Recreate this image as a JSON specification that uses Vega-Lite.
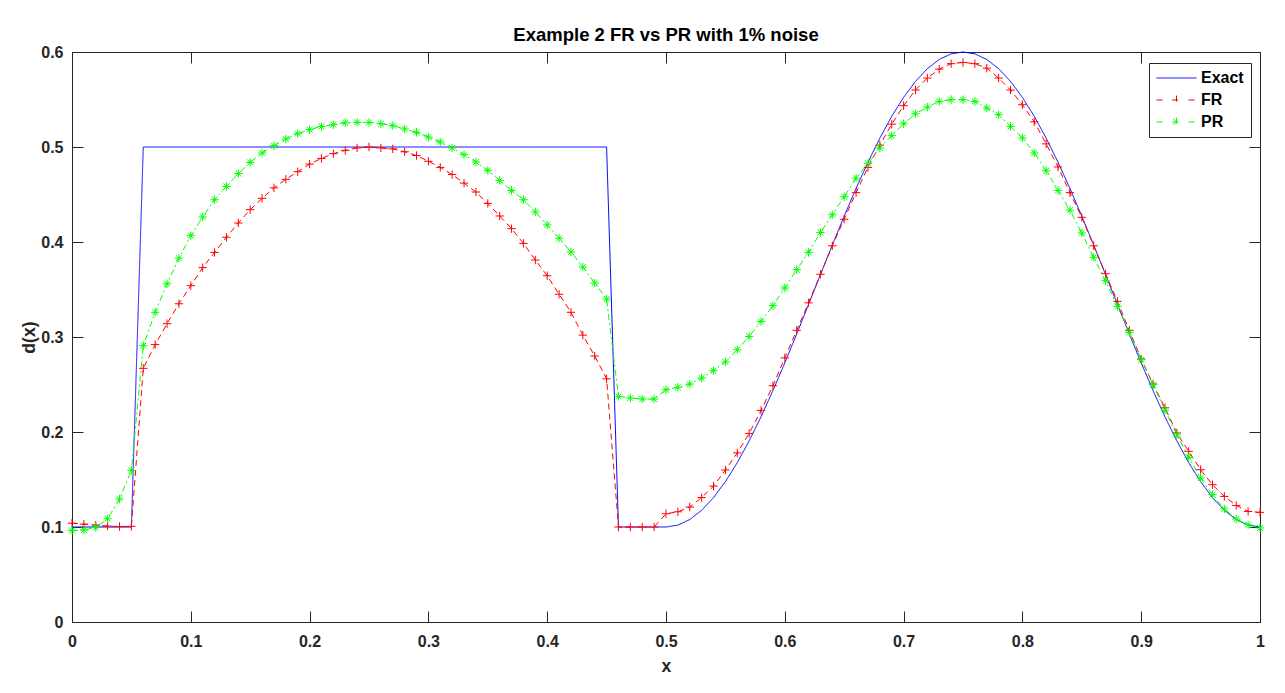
{
"$schema": "https://vega.github.io/schema/vega-lite/v6.json",
"width": 1188, "height": 570,
"autosize": {"type": "none"},
"padding": {"left": 72, "top": 52, "right": 25, "bottom": 71},
"background": "white",
"title": {"text": "Example 2 FR vs PR with 1% noise", "font": "Liberation Sans", "fontSize": 18.5, "fontWeight": "bold", "color": "#000000", "anchor": "middle", "baseline": "alphabetic", "offset": -15},
"config": {"view": {"stroke": null}, "axis": {"grid": false, "domainColor": "#262626", "tickColor": "#262626", "labelColor": "#262626", "titleColor": "#262626", "labelFont": "Liberation Sans", "titleFont": "Liberation Sans", "labelFontSize": 16, "labelFontWeight": "bold", "titleFontSize": 17.6, "titleFontWeight": "bold", "tickSize": -11, "domainWidth": 1, "tickWidth": 1, "labelFlush": false}},
"datasets": {"curves": [
{"series":"Exact","x":0,"d":0.1},{"series":"Exact","x":0.01,"d":0.1},{"series":"Exact","x":0.02,"d":0.1},{"series":"Exact","x":0.03,"d":0.1},{"series":"Exact","x":0.04,"d":0.1},{"series":"Exact","x":0.05,"d":0.1},
{"series":"Exact","x":0.06,"d":0.5},{"series":"Exact","x":0.07,"d":0.5},{"series":"Exact","x":0.08,"d":0.5},{"series":"Exact","x":0.09,"d":0.5},{"series":"Exact","x":0.1,"d":0.5},{"series":"Exact","x":0.11,"d":0.5},{"series":"Exact","x":0.12,"d":0.5},{"series":"Exact","x":0.13,"d":0.5},{"series":"Exact","x":0.14,"d":0.5},{"series":"Exact","x":0.15,"d":0.5},{"series":"Exact","x":0.16,"d":0.5},{"series":"Exact","x":0.17,"d":0.5},{"series":"Exact","x":0.18,"d":0.5},{"series":"Exact","x":0.19,"d":0.5},{"series":"Exact","x":0.2,"d":0.5},{"series":"Exact","x":0.21,"d":0.5},{"series":"Exact","x":0.22,"d":0.5},{"series":"Exact","x":0.23,"d":0.5},{"series":"Exact","x":0.24,"d":0.5},{"series":"Exact","x":0.25,"d":0.5},{"series":"Exact","x":0.26,"d":0.5},{"series":"Exact","x":0.27,"d":0.5},{"series":"Exact","x":0.28,"d":0.5},{"series":"Exact","x":0.29,"d":0.5},{"series":"Exact","x":0.3,"d":0.5},{"series":"Exact","x":0.31,"d":0.5},{"series":"Exact","x":0.32,"d":0.5},{"series":"Exact","x":0.33,"d":0.5},{"series":"Exact","x":0.34,"d":0.5},{"series":"Exact","x":0.35,"d":0.5},{"series":"Exact","x":0.36,"d":0.5},{"series":"Exact","x":0.37,"d":0.5},{"series":"Exact","x":0.38,"d":0.5},{"series":"Exact","x":0.39,"d":0.5},{"series":"Exact","x":0.4,"d":0.5},{"series":"Exact","x":0.41,"d":0.5},{"series":"Exact","x":0.42,"d":0.5},{"series":"Exact","x":0.43,"d":0.5},{"series":"Exact","x":0.44,"d":0.5},{"series":"Exact","x":0.45,"d":0.5},
{"series":"Exact","x":0.46,"d":0.1},{"series":"Exact","x":0.47,"d":0.1},{"series":"Exact","x":0.48,"d":0.1},{"series":"Exact","x":0.49,"d":0.1},{"series":"Exact","x":0.5,"d":0.1},
{"series":"Exact","x":0.51,"d":0.10197},{"series":"Exact","x":0.52,"d":0.10785},{"series":"Exact","x":0.53,"d":0.11756},{"series":"Exact","x":0.54,"d":0.13092},{"series":"Exact","x":0.55,"d":0.14775},{"series":"Exact","x":0.56,"d":0.16776},{"series":"Exact","x":0.57,"d":0.19065},{"series":"Exact","x":0.58,"d":0.21604},{"series":"Exact","x":0.59,"d":0.24356},{"series":"Exact","x":0.6,"d":0.27275},{"series":"Exact","x":0.61,"d":0.30316},{"series":"Exact","x":0.62,"d":0.3343},{"series":"Exact","x":0.63,"d":0.3657},{"series":"Exact","x":0.64,"d":0.39684},{"series":"Exact","x":0.65,"d":0.42725},{"series":"Exact","x":0.66,"d":0.45644},{"series":"Exact","x":0.67,"d":0.48396},{"series":"Exact","x":0.68,"d":0.50935},{"series":"Exact","x":0.69,"d":0.53224},{"series":"Exact","x":0.7,"d":0.55225},{"series":"Exact","x":0.71,"d":0.56908},{"series":"Exact","x":0.72,"d":0.58244},{"series":"Exact","x":0.73,"d":0.59215},{"series":"Exact","x":0.74,"d":0.59803},{"series":"Exact","x":0.75,"d":0.6},{"series":"Exact","x":0.76,"d":0.59803},{"series":"Exact","x":0.77,"d":0.59215},{"series":"Exact","x":0.78,"d":0.58244},{"series":"Exact","x":0.79,"d":0.56908},{"series":"Exact","x":0.8,"d":0.55225},{"series":"Exact","x":0.81,"d":0.53224},{"series":"Exact","x":0.82,"d":0.50935},{"series":"Exact","x":0.83,"d":0.48396},{"series":"Exact","x":0.84,"d":0.45644},{"series":"Exact","x":0.85,"d":0.42725},{"series":"Exact","x":0.86,"d":0.39684},{"series":"Exact","x":0.87,"d":0.3657},{"series":"Exact","x":0.88,"d":0.3343},{"series":"Exact","x":0.89,"d":0.30316},{"series":"Exact","x":0.9,"d":0.27275},{"series":"Exact","x":0.91,"d":0.24356},{"series":"Exact","x":0.92,"d":0.21604},{"series":"Exact","x":0.93,"d":0.19065},{"series":"Exact","x":0.94,"d":0.16776},{"series":"Exact","x":0.95,"d":0.14775},{"series":"Exact","x":0.96,"d":0.13092},{"series":"Exact","x":0.97,"d":0.11756},{"series":"Exact","x":0.98,"d":0.10785},{"series":"Exact","x":0.99,"d":0.10197},{"series":"Exact","x":1,"d":0.1},
{"series":"FR","x":0,"d":0.104},{"series":"FR","x":0.01,"d":0.103},{"series":"FR","x":0.02,"d":0.102},{"series":"FR","x":0.03,"d":0.101},{"series":"FR","x":0.04,"d":0.1005},{"series":"FR","x":0.05,"d":0.1007},{"series":"FR","x":0.06,"d":0.267},{"series":"FR","x":0.07,"d":0.292},{"series":"FR","x":0.08,"d":0.314},{"series":"FR","x":0.09,"d":0.335},{"series":"FR","x":0.1,"d":0.354},{"series":"FR","x":0.11,"d":0.373},{"series":"FR","x":0.12,"d":0.389},{"series":"FR","x":0.13,"d":0.405},{"series":"FR","x":0.14,"d":0.42},{"series":"FR","x":0.15,"d":0.434},{"series":"FR","x":0.16,"d":0.446},{"series":"FR","x":0.17,"d":0.457},{"series":"FR","x":0.18,"d":0.466},{"series":"FR","x":0.19,"d":0.474},{"series":"FR","x":0.2,"d":0.482},{"series":"FR","x":0.21,"d":0.488},{"series":"FR","x":0.22,"d":0.493},{"series":"FR","x":0.23,"d":0.4965},{"series":"FR","x":0.24,"d":0.499},{"series":"FR","x":0.25,"d":0.5},{"series":"FR","x":0.26,"d":0.499},{"series":"FR","x":0.27,"d":0.498},{"series":"FR","x":0.28,"d":0.495},{"series":"FR","x":0.29,"d":0.491},{"series":"FR","x":0.3,"d":0.485},{"series":"FR","x":0.31,"d":0.4785},{"series":"FR","x":0.32,"d":0.471},{"series":"FR","x":0.33,"d":0.462},{"series":"FR","x":0.34,"d":0.4526},{"series":"FR","x":0.35,"d":0.4406},{"series":"FR","x":0.36,"d":0.4274},{"series":"FR","x":0.37,"d":0.414},{"series":"FR","x":0.38,"d":0.3985},{"series":"FR","x":0.39,"d":0.381},{"series":"FR","x":0.4,"d":0.3645},{"series":"FR","x":0.41,"d":0.345},{"series":"FR","x":0.42,"d":0.326},{"series":"FR","x":0.43,"d":0.302},{"series":"FR","x":0.44,"d":0.28},{"series":"FR","x":0.45,"d":0.256},{"series":"FR","x":0.46,"d":0.1},{"series":"FR","x":0.47,"d":0.1},{"series":"FR","x":0.48,"d":0.1},{"series":"FR","x":0.49,"d":0.1},{"series":"FR","x":0.5,"d":0.114},{"series":"FR","x":0.51,"d":0.116},{"series":"FR","x":0.52,"d":0.121},{"series":"FR","x":0.53,"d":0.131},{"series":"FR","x":0.54,"d":0.143},{"series":"FR","x":0.55,"d":0.16},{"series":"FR","x":0.56,"d":0.178},{"series":"FR","x":0.57,"d":0.1985},{"series":"FR","x":0.58,"d":0.2227},{"series":"FR","x":0.59,"d":0.2487},{"series":"FR","x":0.6,"d":0.278},{"series":"FR","x":0.61,"d":0.307},{"series":"FR","x":0.62,"d":0.336},{"series":"FR","x":0.63,"d":0.366},{"series":"FR","x":0.64,"d":0.396},{"series":"FR","x":0.65,"d":0.424},{"series":"FR","x":0.66,"d":0.452},{"series":"FR","x":0.67,"d":0.4785},{"series":"FR","x":0.68,"d":0.502},{"series":"FR","x":0.69,"d":0.524},{"series":"FR","x":0.7,"d":0.5435},{"series":"FR","x":0.71,"d":0.56},{"series":"FR","x":0.72,"d":0.5726},{"series":"FR","x":0.73,"d":0.582},{"series":"FR","x":0.74,"d":0.5877},{"series":"FR","x":0.75,"d":0.589},{"series":"FR","x":0.76,"d":0.5877},{"series":"FR","x":0.77,"d":0.583},{"series":"FR","x":0.78,"d":0.5726},{"series":"FR","x":0.79,"d":0.56},{"series":"FR","x":0.8,"d":0.5445},{"series":"FR","x":0.81,"d":0.5265},{"series":"FR","x":0.82,"d":0.5033},{"series":"FR","x":0.83,"d":0.479},{"series":"FR","x":0.84,"d":0.452},{"series":"FR","x":0.85,"d":0.426},{"series":"FR","x":0.86,"d":0.396},{"series":"FR","x":0.87,"d":0.3666},{"series":"FR","x":0.88,"d":0.3375},{"series":"FR","x":0.89,"d":0.307},{"series":"FR","x":0.9,"d":0.2768},{"series":"FR","x":0.91,"d":0.2505},{"series":"FR","x":0.92,"d":0.2255},{"series":"FR","x":0.93,"d":0.199},{"series":"FR","x":0.94,"d":0.1796},{"series":"FR","x":0.95,"d":0.1603},{"series":"FR","x":0.96,"d":0.1445},{"series":"FR","x":0.97,"d":0.1322},{"series":"FR","x":0.98,"d":0.1227},{"series":"FR","x":0.99,"d":0.1164},{"series":"FR","x":1,"d":0.1154},
{"series":"PR","x":0,"d":0.0964},{"series":"PR","x":0.01,"d":0.0968},{"series":"PR","x":0.02,"d":0.0996},{"series":"PR","x":0.03,"d":0.1087},{"series":"PR","x":0.04,"d":0.1295},{"series":"PR","x":0.05,"d":0.1596},{"series":"PR","x":0.06,"d":0.2908},{"series":"PR","x":0.07,"d":0.326},{"series":"PR","x":0.08,"d":0.356},{"series":"PR","x":0.09,"d":0.383},{"series":"PR","x":0.1,"d":0.4066},{"series":"PR","x":0.11,"d":0.4263},{"series":"PR","x":0.12,"d":0.4445},{"series":"PR","x":0.13,"d":0.4585},{"series":"PR","x":0.14,"d":0.472},{"series":"PR","x":0.15,"d":0.4838},{"series":"PR","x":0.16,"d":0.4937},{"series":"PR","x":0.17,"d":0.5014},{"series":"PR","x":0.18,"d":0.5084},{"series":"PR","x":0.19,"d":0.514},{"series":"PR","x":0.2,"d":0.5182},{"series":"PR","x":0.21,"d":0.5217},{"series":"PR","x":0.22,"d":0.5235},{"series":"PR","x":0.23,"d":0.5255},{"series":"PR","x":0.24,"d":0.526},{"series":"PR","x":0.25,"d":0.5258},{"series":"PR","x":0.26,"d":0.5245},{"series":"PR","x":0.27,"d":0.5224},{"series":"PR","x":0.28,"d":0.519},{"series":"PR","x":0.29,"d":0.5154},{"series":"PR","x":0.3,"d":0.5105},{"series":"PR","x":0.31,"d":0.5053},{"series":"PR","x":0.32,"d":0.499},{"series":"PR","x":0.33,"d":0.492},{"series":"PR","x":0.34,"d":0.4842},{"series":"PR","x":0.35,"d":0.4754},{"series":"PR","x":0.36,"d":0.4648},{"series":"PR","x":0.37,"d":0.4543},{"series":"PR","x":0.38,"d":0.4445},{"series":"PR","x":0.39,"d":0.4316},{"series":"PR","x":0.4,"d":0.418},{"series":"PR","x":0.41,"d":0.404},{"series":"PR","x":0.42,"d":0.3895},{"series":"PR","x":0.43,"d":0.3737},{"series":"PR","x":0.44,"d":0.3568},{"series":"PR","x":0.45,"d":0.34},{"series":"PR","x":0.46,"d":0.2375},{"series":"PR","x":0.47,"d":0.2358},{"series":"PR","x":0.48,"d":0.2347},{"series":"PR","x":0.49,"d":0.2347},{"series":"PR","x":0.5,"d":0.2445},{"series":"PR","x":0.51,"d":0.247},{"series":"PR","x":0.52,"d":0.2505},{"series":"PR","x":0.53,"d":0.2568},{"series":"PR","x":0.54,"d":0.2645},{"series":"PR","x":0.55,"d":0.2737},{"series":"PR","x":0.56,"d":0.2866},{"series":"PR","x":0.57,"d":0.3006},{"series":"PR","x":0.58,"d":0.3164},{"series":"PR","x":0.59,"d":0.333},{"series":"PR","x":0.6,"d":0.3516},{"series":"PR","x":0.61,"d":0.3708},{"series":"PR","x":0.62,"d":0.389},{"series":"PR","x":0.63,"d":0.41},{"series":"PR","x":0.64,"d":0.4287},{"series":"PR","x":0.65,"d":0.4477},{"series":"PR","x":0.66,"d":0.4672},{"series":"PR","x":0.67,"d":0.4827},{"series":"PR","x":0.68,"d":0.499},{"series":"PR","x":0.69,"d":0.512},{"series":"PR","x":0.7,"d":0.5245},{"series":"PR","x":0.71,"d":0.535},{"series":"PR","x":0.72,"d":0.542},{"series":"PR","x":0.73,"d":0.548},{"series":"PR","x":0.74,"d":0.5498},{"series":"PR","x":0.75,"d":0.5498},{"series":"PR","x":0.76,"d":0.548},{"series":"PR","x":0.77,"d":0.541},{"series":"PR","x":0.78,"d":0.534},{"series":"PR","x":0.79,"d":0.5217},{"series":"PR","x":0.8,"d":0.5095},{"series":"PR","x":0.81,"d":0.4937},{"series":"PR","x":0.82,"d":0.475},{"series":"PR","x":0.83,"d":0.4543},{"series":"PR","x":0.84,"d":0.4335},{"series":"PR","x":0.85,"d":0.4095},{"series":"PR","x":0.86,"d":0.3838},{"series":"PR","x":0.87,"d":0.3593},{"series":"PR","x":0.88,"d":0.3322},{"series":"PR","x":0.89,"d":0.3048},{"series":"PR","x":0.9,"d":0.2761},{"series":"PR","x":0.91,"d":0.2498},{"series":"PR","x":0.92,"d":0.223},{"series":"PR","x":0.93,"d":0.197},{"series":"PR","x":0.94,"d":0.1733},{"series":"PR","x":0.95,"d":0.1516},{"series":"PR","x":0.96,"d":0.134},{"series":"PR","x":0.97,"d":0.119},{"series":"PR","x":0.98,"d":0.1084},{"series":"PR","x":0.99,"d":0.1024},{"series":"PR","x":1,"d":0.099}
]},
"data": {"name": "curves"},
"layer": [
{
"mark": {"type": "line", "strokeWidth": 1},
"encoding": {
"x": {"field": "x", "type": "quantitative", "scale": {"domain": [0, 1], "nice": false, "zero": false}, "axis": {"orient": "bottom", "values": [0,0.1,0.2,0.3,0.4,0.5,0.6,0.7,0.8,0.9,1], "format": "~g", "labelPadding": 22, "title": "x", "titlePadding": 8}},
"y": {"field": "d", "type": "quantitative", "scale": {"domain": [0, 0.6], "nice": false}, "axis": {"orient": "left", "values": [0,0.1,0.2,0.3,0.4,0.5,0.6], "format": "~g", "labelPadding": 20, "title": "d(x)", "titlePadding": 2}},
"color": {"field": "series", "type": "nominal", "scale": {"domain": ["Exact","FR","PR"], "range": ["#0000ff","#ff0000","#00ff00"]},
  "legend": {"orient": "none", "legendX": 1077, "legendY": 11, "title": null, "direction": "vertical", "fillColor": "white", "strokeColor": "#262626", "padding": 7, "symbolSize": 1600, "symbolStrokeWidth": 1, "symbolOffset": 0, "labelFont": "Liberation Sans", "labelFontSize": 16, "labelFontWeight": "bold", "labelColor": "#000000", "labelOffset": 4, "rowPadding": 6, "clipHeight": 16,
    "encoding": {"symbols": {"shape": {"value": {"expr": "datum.value === 'Exact' ? 'M-1,0L1,0' : (datum.value === 'FR' ? 'M-1,0L-0.6,0M0.6,0L1,0M-0.22,0L0.22,0M0,-0.22L0,0.22' : 'M-1,0L-0.6,0M0.6,0L1,0M-0.22,0L0.22,0M0,-0.22L0,0.22M-0.16,-0.16L0.16,0.16M-0.16,0.16L0.16,-0.16')"}}, "strokeDash": {"value": []}}}}},
"strokeDash": {"field": "series", "type": "nominal", "scale": {"domain": ["Exact","FR","PR"], "range": [[1,0],[6,4],[6,3,2,3]]}, "legend": null}
}
},
{
"transform": [{"filter": "datum.series !== 'Exact'"}],
"mark": {"type": "point", "filled": false, "strokeWidth": 1, "size": 70, "opacity": 1},
"encoding": {
"x": {"field": "x", "type": "quantitative", "axis": {"orient": "top", "values": [0,0.1,0.2,0.3,0.4,0.5,0.6,0.7,0.8,0.9,1], "labels": false, "title": null}},
"y": {"field": "d", "type": "quantitative", "axis": {"orient": "right", "values": [0,0.1,0.2,0.3,0.4,0.5,0.6], "labels": false, "title": null}},
"shape": {"field": "series", "type": "nominal", "scale": {"domain": ["FR","PR"], "range": ["M-1,0L1,0M0,-1L0,1", "M-1,0L1,0M0,-1L0,1M-0.7,-0.7L0.7,0.7M-0.7,0.7L0.7,-0.7"]}, "legend": null},
"stroke": {"field": "series", "type": "nominal", "scale": {"domain": ["FR","PR"], "range": ["#ff0000","#00ff00"]}, "legend": null}
}
}
],
"resolve": {"axis": {"x": "independent", "y": "independent"}}
}
